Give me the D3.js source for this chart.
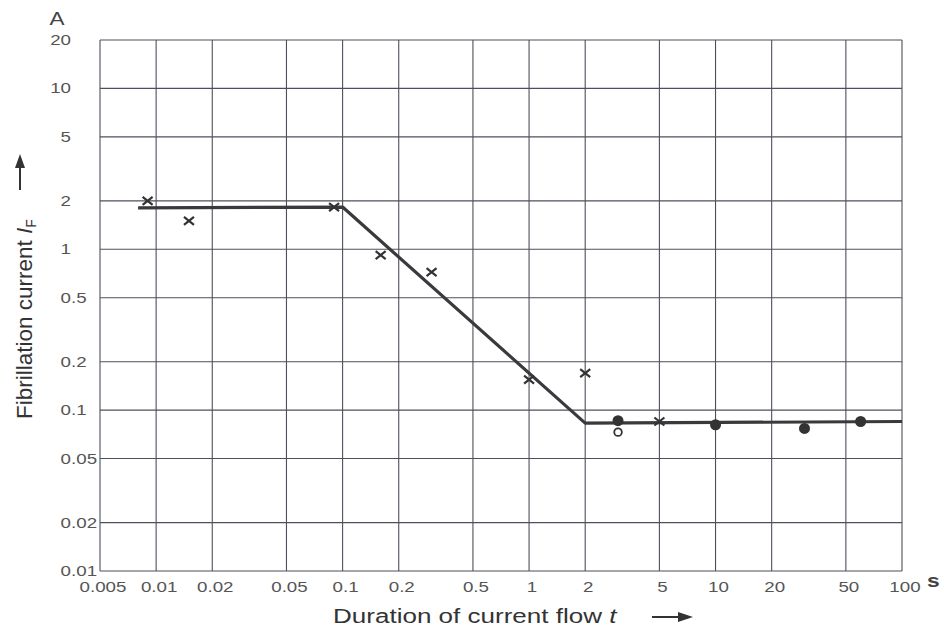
<!DOCTYPE html>
<html>
<head>
<meta charset="utf-8">
<script src="https://cdn.jsdelivr.net/npm/d3@7"></script>
<style>
  body { margin: 0; background: #fff; }
  text { font-family: "Liberation Sans", Arial, sans-serif; }
</style>
</head>
<body>
<script>
// log-log chart: fibrillation current vs duration

var width = 944;
var height = 628;

var xTicks = [0.005, 0.01, 0.02, 0.05, 0.1, 0.2, 0.5, 1, 2, 5, 10, 20, 50, 100];
var yTicks = [0.01, 0.02, 0.05, 0.1, 0.2, 0.5, 1, 2, 5, 10, 20];

// threshold curve
var curveT = [0.008, 0.1, 2, 100];
var curveI = [1.81, 1.83, 0.083, 0.085];

// measured points
var crossT = [0.009, 0.015, 0.09, 0.16, 0.3, 1, 2, 5];
var crossI = [2.0, 1.5, 1.83, 0.92, 0.72, 0.155, 0.17, 0.085];
var dotT = [3, 10, 30, 60];
var dotI = [0.086, 0.081, 0.077, 0.085];
var ringT = [3];
var ringI = [0.073];

var x = d3.scaleLog().domain([0.005, 100]).range([100, 902]);
var y = d3.scaleLog().domain([0.01, 20]).range([571, 40]);

var svg = d3.select("body").append("svg")
    .attr("width", width)
    .attr("height", height);

var gridColor = "#4d505c";
var sx = 1.25; // the scanned lettering is a bit wide

// grid
svg.append("g").selectAll("line.v")
    .data(xTicks)
  .enter().append("line")
    .attr("x1", function(d) { return x(d); })
    .attr("x2", function(d) { return x(d); })
    .attr("y1", y(20))
    .attr("y2", y(0.01))
    .attr("stroke", gridColor)
    .attr("stroke-width", 1.1);

svg.append("g").selectAll("line.h")
    .data(yTicks)
  .enter().append("line")
    .attr("y1", function(d) { return y(d); })
    .attr("y2", function(d) { return y(d); })
    .attr("x1", x(0.005))
    .attr("x2", x(100))
    .attr("stroke", gridColor)
    .attr("stroke-width", 1.1);

// x tick labels
svg.append("g").selectAll("text")
    .data(xTicks)
  .enter().append("text")
    .attr("transform", function(d) { return "translate(" + (x(d) + 3) + ",592) scale(" + sx + ",1)"; })
    .attr("text-anchor", "middle")
    .attr("font-size", 15)
    .attr("fill", "#555")
    .text(function(d) { return String(d); });

// y tick labels, lined up on the decimal point
var yl = svg.append("g").selectAll("g")
    .data(yTicks)
  .enter().append("g")
    .attr("transform", function(d) { return "translate(71," + (y(d) + 5) + ") scale(" + sx + ",1)"; });

yl.append("text")
    .attr("text-anchor", "end")
    .attr("font-size", 15)
    .attr("fill", "#555")
    .text(function(d) { return String(d).split(".")[0]; });

yl.append("text")
    .attr("font-size", 15)
    .attr("fill", "#555")
    .text(function(d) {
      var p = String(d).split(".");
      return p.length > 1 ? "." + p[1] : "";
    });

// units
svg.append("text")
    .attr("transform", "translate(57,25) scale(1.25,1)")
    .attr("text-anchor", "middle")
    .attr("font-size", 18)
    .attr("fill", "#444")
    .text("A");

svg.append("text")
    .attr("transform", "translate(927,587) scale(1.2,1)")
    .attr("font-size", 19)
    .attr("font-weight", "bold")
    .attr("fill", "#444")
    .text("s");

// threshold curve
var line = d3.line()
    .x(function(d) { return x(d[0]); })
    .y(function(d) { return y(d[1]); });

svg.append("path")
    .datum(d3.zip(curveT, curveI))
    .attr("d", line)
    .attr("fill", "none")
    .attr("stroke", "#3a3a3e")
    .attr("stroke-width", 3.2)
    .attr("stroke-linejoin", "round");

// crosses
svg.append("g").selectAll("path")
    .data(d3.zip(crossT, crossI))
  .enter().append("path")
    .attr("transform", function(d) { return "translate(" + x(d[0]) + "," + y(d[1]) + ")"; })
    .attr("d", "M-5,-4L5,4M-5,4L5,-4")
    .attr("stroke", "#333")
    .attr("stroke-width", 2.2)
    .attr("fill", "none");

// filled dots
svg.append("g").selectAll("circle")
    .data(d3.zip(dotT, dotI))
  .enter().append("circle")
    .attr("cx", function(d) { return x(d[0]); })
    .attr("cy", function(d) { return y(d[1]); })
    .attr("r", 5.5)
    .attr("fill", "#333");

// open circle
svg.append("g").selectAll("circle")
    .data(d3.zip(ringT, ringI))
  .enter().append("circle")
    .attr("cx", function(d) { return x(d[0]); })
    .attr("cy", function(d) { return y(d[1]); })
    .attr("r", 3.8)
    .attr("fill", "#fff")
    .attr("stroke", "#333")
    .attr("stroke-width", 1.8);

// x axis title
var xt = svg.append("text")
    .attr("transform", "translate(333,623) scale(1.24,1)")
    .attr("font-size", 21)
    .attr("fill", "#333");
xt.append("tspan").text("Duration of current flow  ");
xt.append("tspan").attr("font-style", "italic").text("t");

svg.append("line")
    .attr("x1", 652).attr("x2", 680)
    .attr("y1", 617).attr("y2", 617)
    .attr("stroke", "#333").attr("stroke-width", 2);
svg.append("path")
    .attr("d", "M678,612L693,617L678,622Z")
    .attr("fill", "#333");

// y axis title
var yt = svg.append("text")
    .attr("transform", "translate(32,419) rotate(-90)")
    .attr("font-size", 22.5)
    .attr("fill", "#333");
yt.append("tspan").text("Fibrillation current ");
yt.append("tspan").attr("font-style", "italic").text("I");
yt.append("tspan").attr("font-size", 14).attr("dy", 4).text("F");

svg.append("line")
    .attr("x1", 20).attr("x2", 20)
    .attr("y1", 190).attr("y2", 166)
    .attr("stroke", "#333").attr("stroke-width", 2);
svg.append("path")
    .attr("d", "M15,168L20,154L25,168Z")
    .attr("fill", "#333");
</script>
</body>
</html>
